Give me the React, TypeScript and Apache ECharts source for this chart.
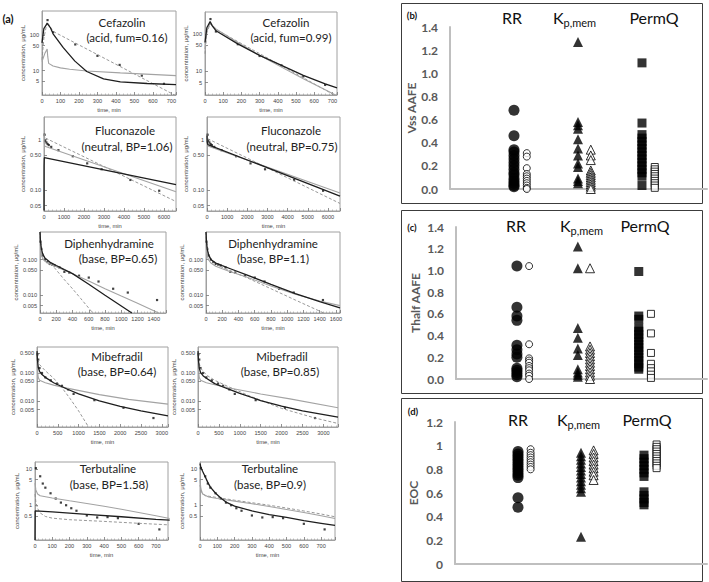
import React, { useEffect, useRef } from "react";
import * as echarts from "echarts";

type Pt = [number, number];

/* ================= (a) observed concentrations ================= */
const cefazolinObsTime = [30, 60, 180, 300, 420, 540, 660];
const cefazolinObsConc = [258, 119, 54, 26, 14.5, 7.3, 4.3];
const fluconazoleObsTime = [30, 60, 120, 180, 240, 360, 720, 1440, 2160, 2880, 4320, 5760];
const fluconazoleObsConc = [1.25, 0.95, 0.88, 0.82, 0.78, 0.72, 0.62, 0.47, 0.34, 0.26, 0.16, 0.098];
const diphenhydramineObsTime = [5, 15, 30, 60, 90, 120, 150, 180, 240, 300, 360, 480, 600, 720, 900, 1080, 1440];
const diphenhydramineObsConc = [0.32, 0.2, 0.13, 0.1, 0.085, 0.075, 0.072, 0.068, 0.06, 0.045, 0.043, 0.035, 0.031, 0.024, 0.015, 0.0117, 0.0072];
const mibefradilObsTime = [10, 30, 60, 120, 200, 330, 480, 600, 750, 880, 1380, 2080, 2800];
const mibefradilObsConc = [0.46, 0.3, 0.15, 0.1, 0.07, 0.055, 0.042, 0.035, 0.026, 0.018, 0.0108, 0.0058, 0.0025];
const terbutalineObsTime = [5, 30, 45, 60, 90, 120, 150, 180, 210, 240, 300, 360, 420, 480, 600, 720];
const terbutalineObsConc = [10.4, 6.2, 3.9, 3.0, 2.1, 1.5, 1.16, 0.98, 0.81, 0.69, 0.51, 0.45, 0.46, 0.43, 0.3, 0.21];

/* ================= (a) simulated profiles [time, conc] ================= */
const cefFum016Black: Pt[] = [[0, 60], [10, 150], [28, 210], [45, 160], [60, 107], [115, 44], [178, 18.5], [242, 9.5], [333, 5.9], [424, 4.9], [569, 4.4], [725, 4.1]];
const cefFum016Gray: Pt[] = [[0, 18], [15, 30], [28, 40], [31, 25], [36, 16], [60, 13.5], [100, 12], [150, 11], [242, 9.8], [424, 8.7], [725, 7.3]];
const cefFum016Dash: Pt[] = [[0, 20], [10, 80], [28, 230], [60, 125], [725, 2.0]];
const cefFum099Black: Pt[] = [[0, 60], [10, 150], [28, 220], [40, 170], [60, 125], [180, 55], [300, 27], [420, 14.5], [540, 7.8], [660, 4.6], [725, 3.6]];
const cefFum099Gray: Pt[] = [[0, 40], [10, 120], [28, 200], [40, 175], [60, 140], [180, 60], [300, 27], [420, 13], [540, 6.3], [660, 3.2], [725, 2.2]];
const cefFum099Dash: Pt[] = [[0, 30], [10, 110], [28, 190], [60, 135], [725, 2.1]];

const fluBP106Black: Pt[] = [[0, 0.04], [4, 0.3], [15, 0.44], [6600, 0.13]];
const fluBP106Gray: Pt[] = [[0, 1.3], [10, 0.9], [40, 0.74], [6600, 0.094]];
const fluBP106Dash: Pt[] = [[0, 1.3], [20, 1.1], [6600, 0.06]];
const fluBP075Black: Pt[] = [[0, 1.2], [10, 0.9], [40, 0.8], [6600, 0.077]];
const fluBP075Gray: Pt[] = [[0, 1.1], [10, 0.85], [40, 0.75], [6600, 0.088]];
const fluBP075Dash: Pt[] = [[0, 1.3], [20, 1.05], [6600, 0.055]];

const dipBP065Black: Pt[] = [[0, 0.6], [5, 0.35], [15, 0.22], [30, 0.15], [60, 0.11], [120, 0.085], [200, 0.068], [300, 0.052], [400, 0.04], [600, 0.02], [800, 0.0098], [1000, 0.0049], [1130, 0.0031]];
const dipBP065Gray: Pt[] = [[0, 0.45], [5, 0.25], [15, 0.15], [30, 0.11], [60, 0.09], [120, 0.075], [200, 0.063], [300, 0.05], [400, 0.04], [600, 0.025], [800, 0.015], [1000, 0.0093], [1200, 0.0058], [1460, 0.0031]];
const dipBP065Dash: Pt[] = [[0, 0.6], [5, 0.4], [15, 0.25], [30, 0.16], [60, 0.11], [120, 0.08], [150, 0.07], [300, 0.027], [400, 0.015], [500, 0.008], [650, 0.0031]];
const dipBP11Black: Pt[] = [[0, 0.6], [5, 0.35], [15, 0.2], [30, 0.14], [60, 0.1], [120, 0.08], [200, 0.067], [300, 0.055], [500, 0.037], [800, 0.02], [1100, 0.011], [1400, 0.0065], [1650, 0.0043]];
const dipBP11Gray: Pt[] = [[0, 0.45], [5, 0.22], [15, 0.13], [30, 0.1], [60, 0.08], [120, 0.065], [200, 0.055], [300, 0.045], [500, 0.032], [800, 0.018], [1100, 0.0105], [1400, 0.0068], [1650, 0.005]];
const dipBP11Dash: Pt[] = [[0, 0.6], [5, 0.4], [15, 0.24], [30, 0.15], [60, 0.1], [120, 0.075], [200, 0.06], [300, 0.048], [500, 0.031], [800, 0.015], [1100, 0.0072], [1450, 0.0031]];

const mibBP064Black: Pt[] = [[0, 0.6], [10, 0.3], [30, 0.16], [60, 0.115], [120, 0.088], [200, 0.07], [400, 0.045], [720, 0.027], [1000, 0.018], [1500, 0.0102], [2000, 0.0065], [2500, 0.0045], [3150, 0.003]];
const mibBP064Gray: Pt[] = [[0, 0.5], [10, 0.13], [30, 0.07], [60, 0.055], [200, 0.045], [400, 0.037], [720, 0.029], [1500, 0.017], [2200, 0.0115], [3150, 0.0078]];
const mibBP064Dash: Pt[] = [[0, 0.45], [20, 0.3], [60, 0.2], [200, 0.12], [400, 0.065], [600, 0.03], [800, 0.012], [1000, 0.0045], [1240, 0.0012]];
const mibBP085Black: Pt[] = [[0, 0.6], [10, 0.3], [30, 0.15], [60, 0.105], [120, 0.08], [200, 0.065], [400, 0.042], [720, 0.027], [1000, 0.019], [1500, 0.0105], [2000, 0.0066], [2500, 0.0045], [3350, 0.0027]];
const mibBP085Gray: Pt[] = [[0, 0.5], [10, 0.13], [30, 0.07], [60, 0.055], [200, 0.045], [400, 0.038], [720, 0.03], [1500, 0.018], [2200, 0.012], [3350, 0.0058]];
const mibBP085Dash: Pt[] = [[0, 0.5], [20, 0.25], [60, 0.15], [200, 0.085], [400, 0.055], [720, 0.033], [1200, 0.016], [2000, 0.0055], [2800, 0.0025], [3350, 0.0016]];

const terBP158Black: Pt[] = [[0, 0.107], [1, 0.68], [100, 0.64], [300, 0.55], [500, 0.47], [700, 0.4], [780, 0.38]];
const terBP158Gray: Pt[] = [[0, 4], [5, 2.6], [15, 2.0], [30, 1.8], [100, 1.55], [200, 1.3], [300, 1.1], [400, 0.92], [500, 0.76], [600, 0.62], [700, 0.5], [780, 0.42]];
const terBP158Dash: Pt[] = [[0, 2.0], [5, 1.2], [15, 0.8], [30, 0.6], [60, 0.48], [100, 0.43], [200, 0.39], [400, 0.35], [600, 0.31], [780, 0.28]];
const terBP09Black: Pt[] = [[0, 14], [5, 11], [15, 8.5], [30, 6], [45, 4.2], [60, 3.1], [90, 2.1], [120, 1.55], [150, 1.2], [200, 0.93], [300, 0.68], [400, 0.54], [500, 0.45], [600, 0.37], [700, 0.31], [780, 0.27]];
const terBP09Gray: Pt[] = [[0, 5], [5, 2.8], [15, 2.0], [50, 1.65], [100, 1.5], [200, 1.27], [300, 1.08], [400, 0.9], [500, 0.75], [600, 0.62], [700, 0.5], [780, 0.42]];
const terBP09Dash: Pt[] = [[0, 3.5], [10, 2.2], [30, 1.8], [100, 1.6], [200, 1.35], [300, 1.15], [400, 0.98], [500, 0.82], [600, 0.68], [700, 0.56], [780, 0.47]];

/* ================= (a) y tick values / labels ================= */
const cefazolinTicks = [5, 10, 50, 100];
const cefazolinTickLabels = ["5", "10", "50", "100"];
const fluconazoleTicks = [0.05, 0.1, 0.5, 1];
const fluconazoleTickLabels = ["0.05", "0.10", "0.50", "1"];
const diphenhydramineTicks = [0.005, 0.01, 0.05, 0.1];
const diphenhydramineTickLabels = ["0.005", "0.010", "0.050", "0.100"];
const mibefradilTicks = [0.005, 0.01, 0.05, 0.1, 0.5];
const mibefradilTickLabels = ["0.005", "0.010", "0.050", "0.100", "0.500"];
const terbutalineTicks = [0.5, 1, 5, 10];
const terbutalineTickLabels = ["0.5", "1", "5", "10"];

/* ================= (b)(c)(d) AAFE / EOC values ================= */
const categories = ["RR", "Kp,mem", "PermQ"];
const vssRRFilled = [0.68, 0.46, 0.34, 0.32, 0.29, 0.26, 0.23, 0.2, 0.17, 0.14, 0.12, 0.09, 0.07, 0.05, 0.03, 0.02];
const vssRRHollow = [0.31, 0.28, 0.18, 0.13, 0.11, 0.09, 0.07, 0.05, 0.03, 0.01, 0.0];
const vssKpFilled = [1.27, 0.58, 0.55, 0.52, 0.43, 0.35, 0.29, 0.22, 0.19, 0.09, 0.07, 0.05];
const vssKpHollow = [0.34, 0.29, 0.25, 0.16, 0.14, 0.12, 0.1, 0.08, 0.06, 0.04, 0.02, 0.0];
const vssPermQFilled = [1.09, 0.57, 0.47, 0.44, 0.41, 0.38, 0.35, 0.32, 0.29, 0.26, 0.23, 0.2, 0.17, 0.14, 0.11, 0.03];
const vssPermQHollow = [0.19, 0.17, 0.15, 0.13, 0.11, 0.09, 0.07, 0.05, 0.03, 0.01];

const thalfRRFilled = [1.04, 0.66, 0.58, 0.54, 0.31, 0.27, 0.23, 0.2, 0.1, 0.08, 0.06, 0.04, 0.02];
const thalfRRHollow = [1.04, 0.32, 0.19, 0.17, 0.15, 0.12, 0.1, 0.08, 0.05, 0.03, 0.0];
const thalfKpFilled = [1.22, 1.02, 0.47, 0.38, 0.28, 0.22, 0.09, 0.06, 0.04, 0.02];
const thalfKpHollow = [1.02, 0.3, 0.27, 0.24, 0.21, 0.18, 0.15, 0.12, 0.09, 0.06, 0.03, 0.0];
const thalfPermQFilled = [0.99, 0.58, 0.55, 0.47, 0.44, 0.41, 0.38, 0.35, 0.32, 0.29, 0.26, 0.23, 0.2, 0.17, 0.14, 0.11, 0.09];
const thalfPermQHollow = [0.6, 0.42, 0.24, 0.14, 0.1, 0.07, 0.04, 0.01];

const eocRRFilled = [0.95, 0.93, 0.91, 0.89, 0.87, 0.85, 0.83, 0.81, 0.79, 0.77, 0.75, 0.73, 0.56, 0.48];
const eocRRHollow = [0.97, 0.94, 0.92, 0.9, 0.88, 0.86, 0.84, 0.82, 0.8];
const eocKpFilled = [0.94, 0.91, 0.88, 0.85, 0.82, 0.79, 0.76, 0.73, 0.7, 0.67, 0.64, 0.61, 0.23];
const eocKpHollow = [0.96, 0.93, 0.9, 0.87, 0.84, 0.81, 0.78, 0.75, 0.71];
const eocPermQFilled = [0.92, 0.89, 0.86, 0.83, 0.8, 0.77, 0.74, 0.61, 0.58, 0.55, 0.52, 0.5];
const eocPermQHollow = [1.01, 0.99, 0.97, 0.95, 0.93, 0.91, 0.89, 0.87, 0.85, 0.83, 0.81];

/* ================= layout ================= */
const W = 709;
const H = 582;
const TICK_FONT = "'Liberation Sans', Arial, sans-serif";
const TITLE_FONT = "Lato, 'Open Sans', sans-serif";

type PanelA = {
  box: number[]; xMax: number; xStep: number; yMin: number; yMax: number;
  ticks: number[]; tickLabels: string[]; obsT: number[]; obsC: number[];
  black: Pt[]; gray: Pt[]; dash: Pt[]; title: string[]; t1: number[]; t2: number[];
};

const panelsA: PanelA[] = [
  { box: [42, 11, 176, 95], xMax: 725, xStep: 100, yMin: 2.1, yMax: 463, ticks: cefazolinTicks, tickLabels: cefazolinTickLabels, obsT: cefazolinObsTime, obsC: cefazolinObsConc, black: cefFum016Black, gray: cefFum016Gray, dash: cefFum016Dash, title: ["Cefazolin", "(acid, fum=0.16)"], t1: [122, 22], t2: [127, 37] },
  { box: [205, 12, 337, 95], xMax: 725, xStep: 100, yMin: 2.3, yMax: 400, ticks: cefazolinTicks, tickLabels: cefazolinTickLabels, obsT: cefazolinObsTime, obsC: cefazolinObsConc, black: cefFum099Black, gray: cefFum099Gray, dash: cefFum099Dash, title: ["Cefazolin", "(acid, fum=0.99)"], t1: [286, 22], t2: [291, 37] },
  { box: [44, 117, 176, 211], xMax: 6600, xStep: 1000, yMin: 0.039, yMax: 2.8, ticks: fluconazoleTicks, tickLabels: fluconazoleTickLabels, obsT: fluconazoleObsTime, obsC: fluconazoleObsConc, black: fluBP106Black, gray: fluBP106Gray, dash: fluBP106Dash, title: ["Fluconazole", "(neutral, BP=1.06)"], t1: [125, 130], t2: [127, 146] },
  { box: [207, 117, 340, 211], xMax: 6600, xStep: 1000, yMin: 0.039, yMax: 2.8, ticks: fluconazoleTicks, tickLabels: fluconazoleTickLabels, obsT: fluconazoleObsTime, obsC: fluconazoleObsConc, black: fluBP075Black, gray: fluBP075Gray, dash: fluBP075Dash, title: ["Fluconazole", "(neutral, BP=0.75)"], t1: [291, 130], t2: [292, 146] },
  { box: [40, 232, 166, 313], xMax: 1550, xStep: 200, yMin: 0.0031, yMax: 0.6, ticks: diphenhydramineTicks, tickLabels: diphenhydramineTickLabels, obsT: diphenhydramineObsTime, obsC: diphenhydramineObsConc, black: dipBP065Black, gray: dipBP065Gray, dash: dipBP065Dash, title: ["Diphenhydramine", "(base, BP=0.65)"], t1: [109, 243], t2: [118, 258] },
  { box: [206, 232, 340, 313], xMax: 1650, xStep: 200, yMin: 0.0031, yMax: 0.6, ticks: diphenhydramineTicks, tickLabels: diphenhydramineTickLabels, obsT: diphenhydramineObsTime, obsC: diphenhydramineObsConc, black: dipBP11Black, gray: dipBP11Gray, dash: dipBP11Dash, title: ["Diphenhydramine", "(base, BP=1.1)"], t1: [273, 243], t2: [273, 258] },
  { box: [37, 347, 168, 427], xMax: 3150, xStep: 500, yMin: 0.0012, yMax: 0.84, ticks: mibefradilTicks, tickLabels: mibefradilTickLabels, obsT: mibefradilObsTime, obsC: mibefradilObsConc, black: mibBP064Black, gray: mibBP064Gray, dash: mibBP064Dash, title: ["Mibefradil", "(base, BP=0.64)"], t1: [117, 356], t2: [117, 371] },
  { box: [198, 347, 338, 427], xMax: 3350, xStep: 500, yMin: 0.0012, yMax: 0.84, ticks: mibefradilTicks, tickLabels: mibefradilTickLabels, obsT: mibefradilObsTime, obsC: mibefradilObsConc, black: mibBP085Black, gray: mibBP085Gray, dash: mibBP085Dash, title: ["Mibefradil", "(base, BP=0.85)"], t1: [282, 356], t2: [280, 371] },
  { box: [35, 462, 168, 540], xMax: 770, xStep: 100, yMin: 0.107, yMax: 15.4, ticks: terbutalineTicks, tickLabels: terbutalineTickLabels, obsT: terbutalineObsTime, obsC: terbutalineObsConc, black: terBP158Black, gray: terBP158Gray, dash: terBP158Dash, title: ["Terbutaline", "(base, BP=1.58)"], t1: [108, 468], t2: [109, 484] },
  { box: [200, 462, 335, 540], xMax: 780, xStep: 100, yMin: 0.107, yMax: 15.4, ticks: terbutalineTicks, tickLabels: terbutalineTickLabels, obsT: terbutalineObsTime, obsC: terbutalineObsConc, black: terBP09Black, gray: terBP09Gray, dash: terBP09Dash, title: ["Terbutaline", "(base, BP=0.9)"], t1: [270, 468], t2: [270, 484] },
];

const groupPos = [2.5, 5, 7.5];
const hollowShift = 0.5;

type PanelR = {
  grid: number[]; xMax: number; yMax: number; trimZeros: boolean; name: string; nameGap: number;
  frame: number[]; tag: string; tagPos: number[]; labelY: number; labelX: number[]; kX: number[];
  filled: number[][]; hollow: number[][];
};

const panelsR: PanelR[] = [
  { grid: [450, 27, 257, 162], xMax: 10.04, yMax: 1.4, trimZeros: false, name: "Vss AAFE", nameGap: 29, frame: [401, 3, 301, 200], tag: "(b)", tagPos: [412, 15], labelY: 17, labelX: [512, 560, 654], kX: [553, 563.5],
    filled: [vssRRFilled, vssKpFilled, vssPermQFilled], hollow: [vssRRHollow, vssKpHollow, vssPermQHollow] },
  { grid: [456, 227, 251, 152], xMax: 10.3, yMax: 1.4, trimZeros: false, name: "Thalf AAFE", nameGap: 35, frame: [401, 210, 301, 183], tag: "(c)", tagPos: [412, 227], labelY: 225, labelX: [516, 567, 645], kX: [560, 570.5],
    filled: [thalfRRFilled, thalfKpFilled, thalfPermQFilled], hollow: [thalfRRHollow, thalfKpHollow, thalfPermQHollow] },
  { grid: [455, 422, 252, 142], xMax: 10.0, yMax: 1.2, trimZeros: true, name: "EOC", nameGap: 36, frame: [401, 398, 301, 183], tag: "(d)", tagPos: [413, 411], labelY: 419, labelX: [518, 564, 647], kX: [557, 567.5],
    filled: [eocRRFilled, eocKpFilled, eocPermQFilled], hollow: [eocRRHollow, eocKpHollow, eocPermQHollow] },
];

const filledSymbols = [
  { symbol: "circle", size: 11 },
  { symbol: "triangle", size: 10 },
  { symbol: "rect", size: 9 },
];
const hollowSymbols = [
  { symbol: "circle", size: 7 },
  { symbol: "triangle", size: 9 },
  { symbol: "rect", size: 7 },
];

function txt(text: string, x: number, y: number, size: number, opts: any = {}) {
  return {
    type: "text",
    x,
    y,
    silent: true,
    style: {
      text,
      fill: opts.fill || "#1a1a1a",
      fontSize: size,
      fontFamily: opts.family || TITLE_FONT,
      fontWeight: opts.weight || "normal",
      align: opts.align || "center",
      textAlign: opts.align || "center",
      verticalAlign: "middle",
      textVerticalAlign: "middle",
    },
  };
}

function buildOption() {
  const grid: any[] = [];
  const xAxis: any[] = [];
  const yAxis: any[] = [];
  const series: any[] = [];
  const graphic: any[] = [];

  panelsA.forEach((p, i) => {
    const [l, t, r, b] = p.box;
    grid.push({ left: l, top: t, width: r - l, height: b - t, show: true, borderColor: "#a0a0a0", borderWidth: 1 });
    const step = p.xStep;
    xAxis.push({
      gridIndex: i, type: "value", min: 0, max: p.xMax, interval: step,
      axisLine: { show: true, lineStyle: { color: "#a0a0a0", width: 1 } },
      axisTick: { show: true, inside: true, length: 3, lineStyle: { color: "#777", width: 0.8 } },
      minorTick: { show: true, splitNumber: 5, length: 1.5, lineStyle: { color: "#999", width: 0.6 } },
      splitLine: { show: false },
      axisLabel: { fontSize: 5.6, color: "#444", margin: 3, fontFamily: TICK_FONT, formatter: (v: number) => (Math.abs(v % step) < 1e-9 ? String(v) : "") },
      name: "time, min", nameLocation: "middle", nameGap: 12,
      nameTextStyle: { fontSize: 5.8, color: "#444", fontFamily: TICK_FONT },
    });
    const ticks = p.ticks;
    const labels = p.tickLabels;
    yAxis.push({
      gridIndex: i, type: "log", logBase: 10, min: p.yMin, max: p.yMax,
      axisLine: { show: true, lineStyle: { color: "#a0a0a0", width: 1 } },
      axisTick: { show: true, inside: true, length: 3, customValues: ticks, lineStyle: { color: "#777", width: 0.8 } },
      splitLine: { show: false },
      axisLabel: {
        fontSize: 5.6, color: "#444", margin: 3, fontFamily: TICK_FONT, customValues: ticks,
        formatter: (v: number) => {
          const k = ticks.findIndex((tv) => Math.abs(tv - v) / tv < 1e-6);
          return k >= 0 ? labels[k] : "";
        },
      },
      name: "concentration, \u03bcg/mL", nameLocation: "middle", nameGap: 14,
      nameTextStyle: { fontSize: 6, color: "#444", fontFamily: TICK_FONT },
    });
    const common = { xAxisIndex: i, yAxisIndex: i, silent: true, showSymbol: false, symbol: "none", clip: true };
    series.push({ ...common, type: "line", data: p.dash, lineStyle: { color: "#8c8c8c", width: 0.9, type: [3, 2] } });
    series.push({ ...common, type: "line", data: p.gray, lineStyle: { color: "#a3a3a3", width: 1.1 } });
    series.push({ ...common, type: "line", data: p.black, lineStyle: { color: "#1e1e1e", width: 1.3 } });
    series.push({
      type: "scatter", xAxisIndex: i, yAxisIndex: i, silent: true, symbol: "rect", symbolSize: 2.2,
      itemStyle: { color: "#111" },
      data: p.obsT.map((tt, k) => [tt, p.obsC[k]]),
    });
    graphic.push(txt(p.title[0], p.t1[0], p.t1[1], 11.5, { fill: "#222" }));
    graphic.push(txt(p.title[1], p.t2[0], p.t2[1], 11.5, { fill: "#222" }));
  });

  graphic.push(txt("(a)", 8, 18, 11, { weight: "bold", fill: "#111" }));

  const base = panelsA.length;
  panelsR.forEach((p, j) => {
    const gi = base + j;
    const [l, t, w, h] = p.grid;
    grid.push({ left: l, top: t, width: w, height: h, show: false });
    xAxis.push({
      gridIndex: gi, type: "value", min: 0, max: p.xMax,
      axisLine: { show: true, onZero: false, lineStyle: { color: "#bfbfbf", width: 2 } },
      axisTick: { show: false }, axisLabel: { show: false }, splitLine: { show: false },
    });
    yAxis.push({
      gridIndex: gi, type: "value", min: 0, max: p.yMax, interval: 0.2,
      axisLine: { show: true, lineStyle: { color: "#bfbfbf", width: 2 } },
      axisTick: { show: false }, splitLine: { show: false },
      axisLabel: {
        fontSize: 12, fontWeight: "bold", color: "#595959", margin: 12, fontFamily: TITLE_FONT,
        formatter: (v: number) => (p.trimZeros ? String(Number(v.toFixed(1))) : v.toFixed(1)),
      },
      name: p.name, nameLocation: "middle", nameGap: p.nameGap,
      nameTextStyle: { fontSize: 12, fontWeight: "bold", color: "#595959", fontFamily: TITLE_FONT },
    });
    groupPos.forEach((gx, c) => {
      series.push({
        type: "scatter", xAxisIndex: gi, yAxisIndex: gi, silent: true,
        symbol: filledSymbols[c].symbol, symbolSize: filledSymbols[c].size,
        itemStyle: { color: "#000" },
        data: p.filled[c].map((v) => [gx, v]),
      });
      series.push({
        type: "scatter", xAxisIndex: gi, yAxisIndex: gi, silent: true,
        symbol: hollowSymbols[c].symbol, symbolSize: hollowSymbols[c].size,
        itemStyle: { color: "#fff", borderColor: "#000", borderWidth: 1 },
        data: p.hollow[c].map((v) => [gx + hollowShift, v]),
      });
    });
    const [fx, fy, fw, fh] = p.frame;
    graphic.push({
      type: "rect", silent: true, z: -1,
      shape: { x: fx + 0.5, y: fy + 0.5, width: fw, height: fh },
      style: { fill: "none", stroke: "#3c3c3c", lineWidth: 1 },
    });
    graphic.push(txt(p.tag, p.tagPos[0], p.tagPos[1], 9.5, { weight: "bold", fill: "#111" }));
    graphic.push(txt(categories[0], p.labelX[0], p.labelY, 16, { fill: "#111" }));
    graphic.push(txt(categories[1].charAt(0), p.kX[0], p.labelY, 16, { fill: "#111", align: "left" }));
    graphic.push(txt(categories[1].slice(1), p.kX[1], p.labelY + 5, 11, { fill: "#111", align: "left" }));
    graphic.push(txt(categories[2], p.labelX[2], p.labelY, 16, { fill: "#111" }));
  });

  return { animation: false, backgroundColor: "#fff", grid, xAxis, yAxis, series, graphic };
}

export default function App() {
  const ref = useRef<HTMLDivElement>(null);
  useEffect(() => {
    document.body.style.margin = "0";
    const chart = echarts.init(ref.current as HTMLDivElement, null, { renderer: "svg", width: W, height: H });
    chart.setOption(buildOption() as any);
    return () => chart.dispose();
  }, []);
  return <div ref={ref} style={{ width: W, height: H }} />;
}
